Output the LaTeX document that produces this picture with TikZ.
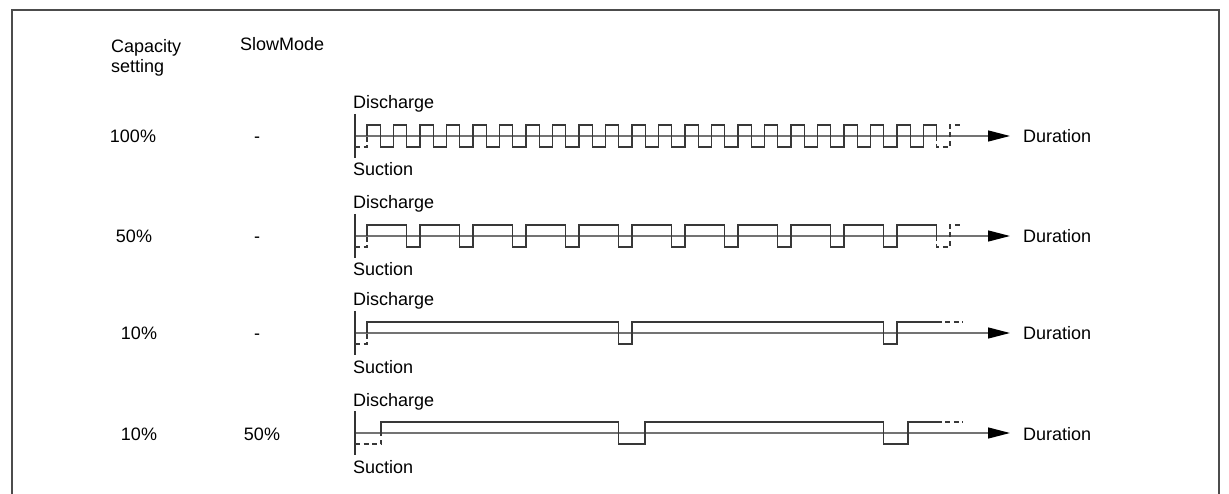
\documentclass[tikz,border=0pt]{standalone}
\usepackage{fontspec}
\setmainfont{Liberation Sans}
\usetikzlibrary{arrows.meta}
\begin{document}
\begin{tikzpicture}[x=1pt,y=-1pt,
  lbl/.style={font=\fontsize{18}{20}\selectfont, inner sep=0pt, anchor=base west},
  lblc/.style={lbl, anchor=base},
  sig/.style={draw=black!78, line width=1.3pt, line join=miter},
  dsh/.style={sig, dash pattern=on 5pt off 3.5pt},
  vax/.style={draw=black!80, line width=1.3pt},
  hax/.style={draw=black!55, line width=1.3pt, -{Triangle[length=22pt,width=11pt,color=black]}},
  frame/.style={draw=black!70, line width=1.5pt}]
\useasboundingbox (0,0) rectangle (1229,494);
\clip (0,0) rectangle (1229,494);
\draw[frame] (12,510) -- (12,10) -- (1219,10) -- (1219,510);

% header
\node[lbl] (cap1) at (111,53) {Capacity};
\node[lbl] (cap2) at (111,73) {setting};
\node[lbl] (slow) at (240,51) {SlowMode};

% ---------- row 1 : 100% ----------
\node[lblc] (c1) at (133,143) {100\%};
\node[lblc] (s1) at (257,143) {-};
\node[lbl] (d1) at (353,109) {Discharge};
\node[lbl] (u1) at (353,176) {Suction};
\node[lbl] (t1) at (1023,143) {Duration};
\draw[hax] (355,136) -- (1010,136);
\draw[vax] (355,114) -- (355,158);
\draw[dsh] (355,147) -- (367,147) -- (367,136);
\draw[sig] (367,136) -- (367,125)
  \foreach \k in {0,...,20} { -- ({380.25+26.5*\k},125) -- ({380.25+26.5*\k},147) -- ({393.5+26.5*\k},147) -- ({393.5+26.5*\k},125) }
  -- (936.75,125) -- (936.75,136);
\draw[dsh] (936.75,136) -- (936.75,147) -- (950,147) -- (950,125) -- (963,125);

% ---------- row 2 : 50% ----------
\node[lblc] (c2) at (134,243) {50\%};
\node[lblc] (s2) at (257,243) {-};
\node[lbl] (d2) at (353,209) {Discharge};
\node[lbl] (u2) at (353,276) {Suction};
\node[lbl] (t2) at (1023,243) {Duration};
\draw[hax] (355,236) -- (1010,236);
\draw[vax] (355,214) -- (355,258);
\draw[dsh] (355,247) -- (367,247) -- (367,236);
\draw[sig] (367,236) -- (367,225)
  \foreach \j in {0,...,9} { -- ({406.75+53*\j},225) -- ({406.75+53*\j},247) -- ({420+53*\j},247) -- ({420+53*\j},225) }
  -- (936.75,225) -- (936.75,236);
\draw[dsh] (936.75,236) -- (936.75,247) -- (950,247) -- (950,225) -- (963,225);

% ---------- row 3 : 10% ----------
\node[lblc] (c3) at (139,340) {10\%};
\node[lblc] (s3) at (257,340) {-};
\node[lbl] (d3) at (353,306) {Discharge};
\node[lbl] (u3) at (353,373) {Suction};
\node[lbl] (t3) at (1023,340) {Duration};
\draw[hax] (355,333) -- (1010,333);
\draw[vax] (355,311) -- (355,355);
\draw[dsh] (355,344) -- (367,344) -- (367,333);
\draw[sig] (367,333) -- (367,322) -- (618.75,322) -- (618.75,344) -- (632,344) -- (632,322)
  -- (883.75,322) -- (883.75,344) -- (897,344) -- (897,322) -- (936.75,322);
\draw[dsh] (936.75,322) -- (963,322);

% ---------- row 4 : 10% / SlowMode 50% ----------
\node[lblc] (c4) at (139,440) {10\%};
\node[lblc] (s4) at (262,440) {50\%};
\node[lbl] (d4) at (353,406) {Discharge};
\node[lbl] (u4) at (353,473) {Suction};
\node[lbl] (t4) at (1023,440) {Duration};
\draw[hax] (355,433) -- (1010,433);
\draw[vax] (355,411) -- (355,455);
\draw[dsh] (355,444) -- (381,444) -- (381,433);
\draw[sig] (381,433) -- (381,422) -- (618.75,422) -- (618.75,444) -- (645,444) -- (645,422)
  -- (883.75,422) -- (883.75,444) -- (908,444) -- (908,422) -- (936.75,422);
\draw[dsh] (936.75,422) -- (963,422);
\end{tikzpicture}
\end{document}
